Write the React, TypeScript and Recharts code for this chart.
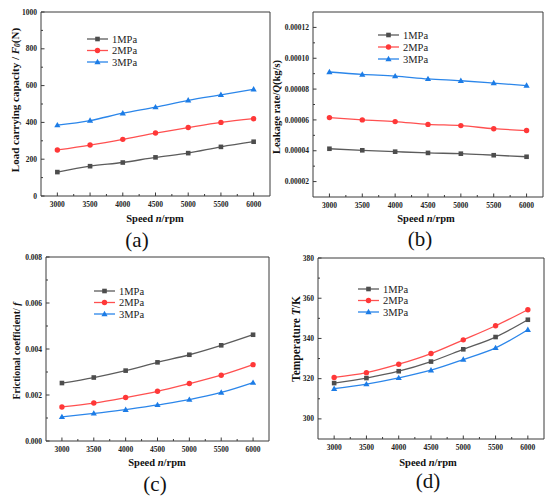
import React from "react"
import { Legend, Line, LineChart, XAxis, YAxis } from "recharts"

// speed (rpm) on every x axis
const speeds = [3000, 3500, 4000, 4500, 5000, 5500, 6000]
const xTickLabels = [3000, 3500, 4000, 4500, 5000, 5500, 6000]
const xMinorTicks = [3250, 3750, 4250, 4750, 5250, 5750]
const seriesNames = ["1MPa", "2MPa", "3MPa"]

// (a) load carrying capacity F0 (N)
const load1 = [130, 162, 182, 210, 233, 267, 295]
const load2 = [250, 277, 308, 342, 372, 400, 420]
const load3 = [385, 410, 450, 483, 520, 550, 580]
const loadTicks = [0, 200, 400, 600, 800, 1000]
const loadMinor = [100, 300, 500, 700, 900]

// (b) leakage rate Q (kg/s)
const leak1 = [0.0000413, 0.0000403, 0.0000394, 0.0000386, 0.0000381, 0.0000371, 0.0000361]
const leak2 = [0.0000615, 0.00006, 0.0000589, 0.0000571, 0.0000563, 0.0000543, 0.0000531]
const leak3 = [0.0000911, 0.0000895, 0.0000884, 0.0000866, 0.0000854, 0.0000839, 0.0000823]
const leakTicks = [0.00002, 0.00004, 0.00006, 0.00008, 0.0001, 0.00012]
const leakMinor = [0.00003, 0.00005, 0.00007, 0.00009, 0.00011]

// (c) frictional coefficient f
const fric1 = [0.00252, 0.00276, 0.00306, 0.00342, 0.00375, 0.00416, 0.00462]
const fric2 = [0.00148, 0.00165, 0.00189, 0.00216, 0.0025, 0.00286, 0.00332]
const fric3 = [0.00105, 0.0012, 0.00136, 0.00157, 0.0018, 0.00211, 0.00254]
const fricTicks = [0, 0.002, 0.004, 0.006, 0.008]
const fricMinor = [0.001, 0.003, 0.005, 0.007]

// (d) temperature T (K)
const temp1 = [317.8, 320.3, 323.7, 328.5, 334.6, 340.7, 349.3]
const temp2 = [320.6, 323, 327.2, 332.5, 339.3, 346.3, 354.3]
const temp3 = [315, 317.3, 320.4, 324.2, 329.5, 335.3, 344.3]
const tempTicks = [300, 320, 340, 360, 380]
const tempMinor = [310, 330, 350, 370]

const serif = "Liberation Serif, Times New Roman, serif"
const axisColor = "#3a3a3a"
const series = [
  { key: "p1", color: "#4d4d4d", line: "#5c5c5c", shape: "square" },
  { key: "p2", color: "#ff3838", line: "#ff5050", shape: "circle" },
  { key: "p3", color: "#1c7ce6", line: "#2b86ea", shape: "triangle" },
]

const toRows = (a: number[], b: number[], c: number[]) =>
  speeds.map((speed, i) => ({ speed, p1: a[i], p2: b[i], p3: c[i] }))

function Marker({ cx, cy, shape, color }: any) {
  if (cx == null || cy == null) return null
  if (shape === "square") return <rect x={cx - 2.3} y={cy - 2.3} width={4.6} height={4.6} fill={color} />
  if (shape === "circle") return <circle cx={cx} cy={cy} r={2.7} fill={color} />
  return <polygon points={`${cx},${cy - 3.2} ${cx + 3.1},${cy + 2.2} ${cx - 3.1},${cy + 2.2}`} fill={color} />
}

// ticks point inward, minor ticks shorter and unlabeled
function XTick({ x, y, payload }: any) {
  const major = xTickLabels.includes(payload.value)
  return (
    <g>
      <line x1={x} x2={x} y1={y} y2={y - (major ? 3.5 : 2)} stroke={axisColor} strokeWidth={1} />
      {major && (
        <text x={x} y={y + 10.5} textAnchor="middle" fontFamily={serif} fontWeight="bold" fontSize={7.5} fill="#222">
          {payload.value}
        </text>
      )}
    </g>
  )
}

function makeYTick(major: number[], fmt: (v: number) => string) {
  return ({ x, y, payload }: any) => {
    const isMajor = major.includes(payload.value)
    return (
      <g>
        <line x1={x} x2={x + (isMajor ? 3.5 : 2)} y1={y} y2={y} stroke={axisColor} strokeWidth={1} />
        {isMajor && (
          <text x={x - 4} y={y + 2.6} textAnchor="end" fontFamily={serif} fontWeight="bold" fontSize={7.5} fill="#222">
            {fmt(payload.value)}
          </text>
        )}
      </g>
    )
  }
}

function makeLegend(rowH: number) {
  return () => (
    <svg width={80} height={rowH * 3 + 2} style={{ display: "block" }}>
      {seriesNames.map((name, i) => {
        const s = series[i]
        const cy = 6 + i * rowH
        return (
          <g key={name}>
            <line x1={1} x2={22} y1={cy} y2={cy} stroke={s.line} strokeWidth={1.3} />
            <Marker cx={11.5} cy={cy} shape={s.shape} color={s.color} />
            <text x={26} y={cy + 3.5} fontFamily={serif} fontSize={10.5} fill="#222">
              {name}
            </text>
          </g>
        )
      })}
    </svg>
  )
}

type PanelProps = {
  left: number
  top: number
  width: number
  height: number
  margin: { top: number; right: number; left: number; bottom: number }
  yWidth: number
  rows: any[]
  yDomain: [number, number]
  yMajor: number[]
  yMinor: number[]
  yFmt: (v: number) => string
  legend: { left: number; top: number; rowH: number }
}

function Panel(p: PanelProps) {
  const yTicks = [...p.yMajor, ...p.yMinor].sort((a, b) => a - b)
  const xTicks = [...xTickLabels, ...xMinorTicks].sort((a, b) => a - b)
  // the top x axis and right y axis take 1px each and only draw the frame
  const margin = { ...p.margin, top: p.margin.top - 1, right: p.margin.right - 1 }
  return (
    <div style={{ position: "absolute", left: p.left, top: p.top }}>
      <LineChart width={p.width} height={p.height} data={p.rows} margin={margin}>
        <XAxis
          dataKey="speed"
          type="number"
          domain={[2750, 6250]}
          ticks={xTicks}
          interval={0}
          tick={<XTick />}
          tickLine={false}
          tickSize={0}
          tickMargin={0}
          height={20}
          stroke={axisColor}
        />
        <XAxis xAxisId="top" orientation="top" type="number" domain={[2750, 6250]} tick={false} tickLine={false} height={1} stroke={axisColor} />
        <YAxis
          type="number"
          domain={p.yDomain}
          ticks={yTicks}
          interval={0}
          tick={makeYTick(p.yMajor, p.yFmt)}
          tickLine={false}
          tickSize={0}
          tickMargin={0}
          width={p.yWidth}
          stroke={axisColor}
          allowDataOverflow
        />
        <YAxis yAxisId="right" orientation="right" type="number" domain={p.yDomain} tick={false} tickLine={false} width={1} stroke={axisColor} />
        <Legend
          layout="horizontal"
          verticalAlign="middle"
          align="center"
          wrapperStyle={{ left: p.legend.left, top: p.legend.top, width: 80 }}
          content={makeLegend(p.legend.rowH)}
        />
        {series.map((s, i) => (
          <Line
            key={s.key}
            dataKey={s.key}
            name={seriesNames[i]}
            type="monotone"
            stroke={s.line}
            strokeWidth={1.3}
            isAnimationActive={false}
            dot={(d: any) => <Marker key={`${s.key}-${d.index}`} cx={d.cx} cy={d.cy} shape={s.shape} color={s.color} />}
            activeDot={false}
          />
        ))}
      </LineChart>
    </div>
  )
}

function SpeedTitle({ x, y }: { x: number; y: number }) {
  return (
    <text x={x} y={y} textAnchor="middle" fontFamily={serif} fontWeight="bold" fontSize={10.5} fill="#111">
      Speed <tspan fontStyle="italic">n</tspan>/rpm
    </text>
  )
}

function Caption({ x, y, label }: { x: number; y: number; label: string }) {
  return (
    <text x={x} y={y} textAnchor="middle" fontFamily={serif} fontSize={21} fill="#111">
      {label}
    </text>
  )
}

export default function App() {
  return (
    <div style={{ position: "absolute", left: 0, top: 0, width: 550, height: 499, background: "#fff", overflow: "hidden" }}>
      <Panel
        left={0}
        top={0}
        width={275}
        height={250}
        margin={{ top: 12, right: 5, left: 0, bottom: 34 }}
        yWidth={41}
        rows={toRows(load1, load2, load3)}
        yDomain={[0, 1000]}
        yMajor={loadTicks}
        yMinor={loadMinor}
        yFmt={(v) => String(v)}
        legend={{ left: 86, top: 33, rowH: 11.5 }}
      />
      <Panel
        left={275}
        top={0}
        width={275}
        height={250}
        margin={{ top: 12, right: 7, left: 0, bottom: 33 }}
        yWidth={38}
        rows={toRows(leak1, leak2, leak3)}
        yDomain={[0.00001, 0.00013]}
        yMajor={leakTicks}
        yMinor={leakMinor}
        yFmt={(v) => v.toFixed(5)}
        legend={{ left: 102, top: 29, rowH: 12 }}
      />
      <Panel
        left={0}
        top={250}
        width={275}
        height={249}
        margin={{ top: 7, right: 6, left: 0, bottom: 38 }}
        yWidth={46}
        rows={toRows(fric1, fric2, fric3)}
        yDomain={[0, 0.008]}
        yMajor={fricTicks}
        yMinor={fricMinor}
        yFmt={(v) => v.toFixed(3)}
        legend={{ left: 93, top: 35, rowH: 11.5 }}
      />
      <Panel
        left={275}
        top={250}
        width={275}
        height={249}
        margin={{ top: 8, right: 6, left: 0, bottom: 40 }}
        yWidth={43}
        rows={toRows(temp1, temp2, temp3)}
        yDomain={[290, 380]}
        yMajor={tempTicks}
        yMinor={tempMinor}
        yFmt={(v) => String(v)}
        legend={{ left: 82, top: 33, rowH: 11.5 }}
      />
      <svg width={550} height={499} style={{ position: "absolute", left: 0, top: 0, pointerEvents: "none" }}>
        <g fontFamily={serif} fontWeight="bold" fill="#111">
          <text transform="rotate(-90 15 100)" x={15} y={100} textAnchor="middle" dominantBaseline="central" fontSize={11}>
            Load carrying capacity / <tspan fontStyle="italic">F</tspan>
            <tspan fontStyle="italic" fontSize={7.5} dy={2}>0</tspan>
            <tspan dy={-2}>(N)</tspan>
          </text>
          <text transform="rotate(-90 276 107)" x={276} y={107} textAnchor="middle" dominantBaseline="central" fontSize={10.5}>
            Leakage rate/<tspan fontStyle="italic">Q</tspan>(kg/s)
          </text>
          <text transform="rotate(-90 16 351)" x={16} y={351} textAnchor="middle" dominantBaseline="central" fontSize={10}>
            Frictional coefficient/ <tspan fontStyle="italic">f</tspan>
          </text>
          <text transform="rotate(-90 296 339)" x={296} y={339} textAnchor="middle" dominantBaseline="central" fontSize={11.5}>
            Temperature <tspan fontStyle="italic">T</tspan>/K
          </text>
        </g>
        <SpeedTitle x={155} y={221.5} />
        <SpeedTitle x={426} y={221.5} />
        <SpeedTitle x={157} y={465.5} />
        <SpeedTitle x={428} y={465.5} />
        <Caption x={137} y={247} label="(a)" />
        <Caption x={420} y={246} label="(b)" />
        <Caption x={155} y={491} label="(c)" />
        <Caption x={428} y={488} label="(d)" />
      </svg>
    </div>
  )
}
